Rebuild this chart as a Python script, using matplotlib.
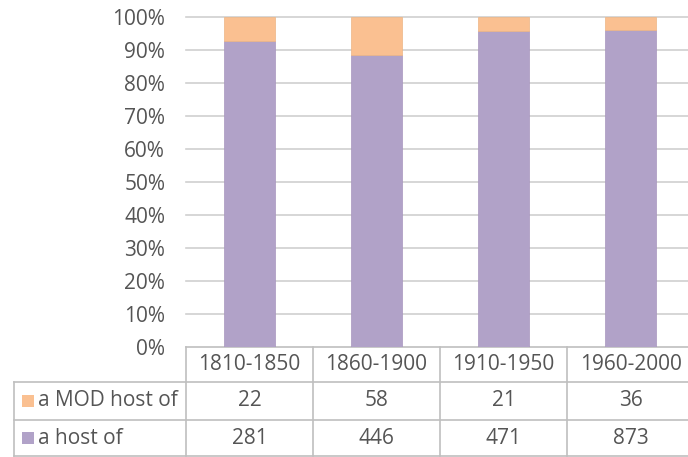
import matplotlib
matplotlib.use("Agg")
import matplotlib.pyplot as plt
from matplotlib.patches import Rectangle
from matplotlib.lines import Line2D
import numpy as np

categories = ["1810-1850", "1860-1900", "1910-1950", "1960-2000"]
series_names = ["a MOD host of", "a host of"]
mod_host = [22, 58, 21, 36]
host = [281, 446, 471, 873]
yticks = [0, 10, 20, 30, 40, 50, 60, 70, 80, 90, 100]

c_host = "#B1A2C8"
c_mod = "#FAC091"
txt = "#555555"
grid_c = "#D0D0D0"
tbl_c = "#BFBFBF"
FONT = ["Open Sans", "DejaVu Sans"]
FS = 15

W, H = 688, 457
fig = plt.figure(figsize=(W / 100, H / 100), dpi=100)

def fx(px):
    return px / W

def fy(py):
    return 1 - py / H

# plot area (extends slightly past right edge as in reference)
left_px, right_px = 186, 694
top_px, bot_px = 17, 347
ax = fig.add_axes([fx(left_px), fy(bot_px), (right_px - left_px) / W, (bot_px - top_px) / H])

tot = np.array(host) + np.array(mod_host)
p_host = np.array(host) / tot * 100
p_mod = np.array(mod_host) / tot * 100
x = np.arange(len(categories))
bw = 0.40
ax.bar(x, p_host, bw, color=c_host, edgecolor="#A896BE", linewidth=0.5, zorder=3)
ax.bar(x, p_mod, bw, bottom=p_host, color=c_mod, edgecolor="#EDB584", linewidth=0.5, zorder=3)

ax.set_xlim(-0.5, len(categories) - 0.5)
ax.set_ylim(0, 100)
ax.set_yticks(yticks)
ax.set_yticklabels([f"{v}%" for v in yticks], fontsize=FS, color=txt, family=FONT)
ax.tick_params(axis="y", length=0, pad=15)
ax.set_xticks([])
for v in yticks[1:]:
    ax.axhline(v, color=grid_c, linewidth=1.2, zorder=1, clip_on=False)
for s in ["top", "right", "left"]:
    ax.spines[s].set_visible(False)
ax.spines["bottom"].set_color(tbl_c)
ax.spines["bottom"].set_linewidth(1.2)

# data table
row_lines = [382, 420, 456]
row_centers = [364.5, 401, 438]
tleft = 14
lw = 1.2
fig_lines = []
for yy in row_lines:
    fig_lines.append(Line2D([fx(tleft), fx(right_px)], [fy(yy), fy(yy)], color=tbl_c, lw=lw))
fig_lines.append(Line2D([fx(tleft), fx(tleft)], [fy(row_lines[0]), fy(row_lines[-1])], color=tbl_c, lw=lw))
colw = (right_px - left_px) / len(categories)
for i in range(len(categories) + 1):
    xx = left_px + i * colw
    fig_lines.append(Line2D([fx(xx), fx(xx)], [fy(bot_px), fy(row_lines[-1])], color=tbl_c, lw=lw))
for ln in fig_lines:
    fig.add_artist(ln)

for i, c in enumerate(categories):
    cx = left_px + (i + 0.5) * colw
    fig.text(fx(cx), fy(row_centers[0]), c, ha="center", va="center", fontsize=FS, color=txt, family=FONT)
    fig.text(fx(cx), fy(row_centers[1]), str(mod_host[i]), ha="center", va="center", fontsize=FS, color=txt, family=FONT)
    fig.text(fx(cx), fy(row_centers[2]), str(host[i]), ha="center", va="center", fontsize=FS, color=txt, family=FONT)

sq = 12
for rc, name, col in zip(row_centers[1:], series_names, [c_mod, c_host]):
    fig.add_artist(Rectangle((fx(22), fy(rc + sq / 2)), sq / W, sq / H, transform=fig.transFigure,
                             facecolor=col, edgecolor="none"))
    fig.text(fx(38), fy(rc), name, ha="left", va="center", fontsize=FS, color=txt, family=FONT)

fig.savefig("out.png", dpi=100)
